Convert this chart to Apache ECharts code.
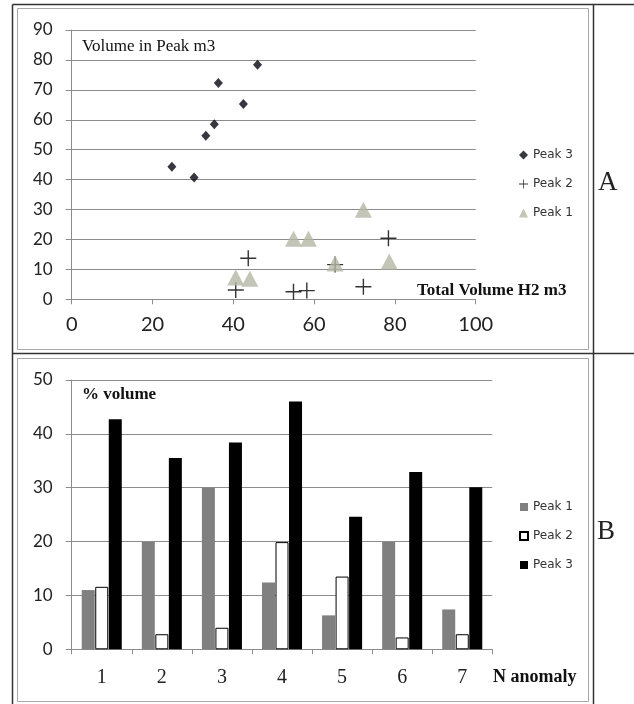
<!DOCTYPE html>
<html>
<head>
<meta charset="utf-8">
<script src="https://cdn.jsdelivr.net/npm/echarts@6/dist/echarts.min.js"></script>
<style>
html,body{margin:0;padding:0;background:#fff;}
#c{width:634px;height:704px;}
</style>
</head>
<body>
<div id="c"></div>
<script>
// ---- Chart A data (scatter): [Total Volume H2 m3, Volume in Peak m3]
var peak3Points = [[24.8,44.3],[30.3,40.7],[33.2,54.7],[35.3,58.5],[36.3,72.3],[42.5,65.3],[46.0,78.4]];
var peak2Points = [[40.6,3.1],[43.7,13.7],[54.9,2.5],[58.2,2.9],[65.2,11.6],[72.2,4.2],[78.4,20.4]];
var peak1Points = [[40.6,7.3],[44.1,6.9],[54.9,20.2],[58.6,20.2],[65.2,12.0],[72.2,29.9],[78.6,12.6]];

// ---- Chart B data (bars): % volume per anomaly
var anomalies = ['1','2','3','4','5','6','7'];
var peak1Pct = [11.0, 19.9, 30.0, 12.4, 6.3, 19.9, 7.4];
var peak2Pct = [11.6, 2.8, 4.0, 19.9, 13.5, 2.2, 2.8];
var peak3Pct = [42.7, 35.5, 38.4, 46.0, 24.6, 32.9, 30.1];

var titleA = 'Volume in Peak m3';
var xTitleA = 'Total Volume H2 m3';
var titleB = '% volume';
var xTitleB = 'N anomaly';

var gridColor = '#8c8c8c';
var sans = 'Lato, "Open Sans", sans-serif';
var serif = '"Liberation Serif", "DejaVu Serif", serif';
var plusPath = 'path://M0,7.3H7.3V0H8.7V7.3H16V8.7H8.7V16H7.3V8.7H0Z';
var triColor = '#b4b6a4';

var chart = echarts.init(document.getElementById('c'), null, {renderer:'canvas'});

var axisLineStyle = {show:true, lineStyle:{color:gridColor, width:1}};
var legendText = {fontFamily:'"DejaVu Sans", sans-serif', fontSize:12, color:'#333', lineHeight:14};

var option = {
  animation:false,
  backgroundColor:'#fff',
  grid:[
    {left:71.7, right:634-475.7, top:30, bottom:704-299.3},
    {left:71.7, right:634-492.3, top:380, bottom:704-649.3}
  ],
  xAxis:[
    {gridIndex:0, type:'value', min:0, max:100, interval:20,
     axisLine:axisLineStyle, axisTick:{show:true, length:5, lineStyle:{color:gridColor}},
     axisLabel:{fontFamily:sans, fontSize:20, color:'#222', margin:15},
     splitLine:{show:false}},
    {gridIndex:1, type:'category', data:anomalies, boundaryGap:true,
     axisLine:axisLineStyle, axisTick:{show:true, length:5, lineStyle:{color:gridColor}},
     axisLabel:{fontFamily:serif, fontSize:20, color:'#222', margin:18},
     splitLine:{show:false}}
  ],
  yAxis:[
    {gridIndex:0, type:'value', min:0, max:90, interval:10,
     axisLine:axisLineStyle, axisTick:{show:true, length:6, lineStyle:{color:gridColor}},
     axisLabel:{fontFamily:sans, fontSize:17, color:'#222', margin:19},
     splitLine:{show:true, lineStyle:{color:gridColor, width:1}}},
    {gridIndex:1, type:'value', min:0, max:50, interval:10,
     axisLine:axisLineStyle, axisTick:{show:true, length:6, lineStyle:{color:gridColor}},
     axisLabel:{fontFamily:sans, fontSize:17, color:'#222', margin:19},
     splitLine:{show:true, lineStyle:{color:gridColor, width:1}}}
  ],
  legend:[
    {orient:'vertical', left:514, top:143, itemWidth:9, itemHeight:9, itemGap:15,
     data:[{name:'Peak 3', icon:'diamond'},{name:'Peak 2', icon:plusPath},{name:'Peak 1', icon:'triangle'}],
     textStyle:legendText, selectedMode:false},
    {orient:'vertical', left:514, top:495, itemWidth:8, itemHeight:8, itemGap:15,
     data:[{name:'Peak 1 ', icon:'rect'},{name:'Peak 2 ', icon:'rect'},{name:'Peak 3 ', icon:'rect'}],
     formatter:function(n){return n.trim();},
     textStyle:legendText, selectedMode:false}
  ],
  series:[
    {name:'Peak 3', type:'scatter', xAxisIndex:0, yAxisIndex:0, data:peak3Points,
     symbol:'diamond', symbolSize:[9,10], itemStyle:{color:'#05050f'}, z:3},
    {name:'Peak 2', type:'scatter', xAxisIndex:0, yAxisIndex:0, data:peak2Points,
     symbol:plusPath, symbolSize:16, itemStyle:{color:'#000'}, z:2},
    {name:'Peak 1', type:'scatter', xAxisIndex:0, yAxisIndex:0, data:peak1Points,
     symbol:'triangle', symbolSize:[17,16], itemStyle:{color:triColor}, z:4},
    {name:'Peak 1 ', type:'bar', xAxisIndex:1, yAxisIndex:1, data:peak1Pct,
     barWidth:13, barGap:'4%', itemStyle:{color:'#808080'}},
    {name:'Peak 2 ', type:'bar', xAxisIndex:1, yAxisIndex:1, data:peak2Pct,
     barWidth:13, barGap:'4%', itemStyle:{color:'#fff', borderColor:'#000', borderWidth:1}},
    {name:'Peak 3 ', type:'bar', xAxisIndex:1, yAxisIndex:1, data:peak3Pct,
     barWidth:13, barGap:'4%', itemStyle:{color:'#000'}}
  ],
  graphic:[
    {type:'rect', shape:{x:17.5, y:8.5, width:571, height:341}, style:{fill:null, stroke:'#a8a8a8', lineWidth:1}, z:-1},
    {type:'rect', shape:{x:17.5, y:358.5, width:571, height:343}, style:{fill:null, stroke:'#a8a8a8', lineWidth:1}, z:-1},
    {type:'line', shape:{x1:12.5, y1:4.5, x2:634, y2:4.5}, style:{stroke:'#333', lineWidth:1.5}},
    {type:'line', shape:{x1:12.5, y1:4.5, x2:12.5, y2:704}, style:{stroke:'#333', lineWidth:1.5}},
    {type:'line', shape:{x1:593.5, y1:4.5, x2:593.5, y2:704}, style:{stroke:'#333', lineWidth:1.5}},
    {type:'line', shape:{x1:12.5, y1:353.5, x2:634, y2:353.5}, style:{stroke:'#333', lineWidth:1.5}},
    {type:'text', left:82, top:38, style:{text:titleA, font:'17px "Liberation Serif", serif', fill:'#111'}},
    {type:'text', left:417, top:282, style:{text:xTitleA, font:'bold 17px "Liberation Serif", serif', fill:'#111'}},
    {type:'text', left:82, top:386, style:{text:titleB, font:'bold 17px "Liberation Serif", serif', fill:'#111'}},
    {type:'text', left:493, top:668, style:{text:xTitleB, font:'bold 18px "Liberation Serif", serif', fill:'#111'}},
    {type:'text', left:598, top:169, style:{text:'A', font:'27px "Liberation Serif", serif', fill:'#222'}},
    {type:'text', left:597, top:518, style:{text:'B', font:'27px "Liberation Serif", serif', fill:'#222'}}
  ]
};
chart.setOption(option);
</script>
</body>
</html>
